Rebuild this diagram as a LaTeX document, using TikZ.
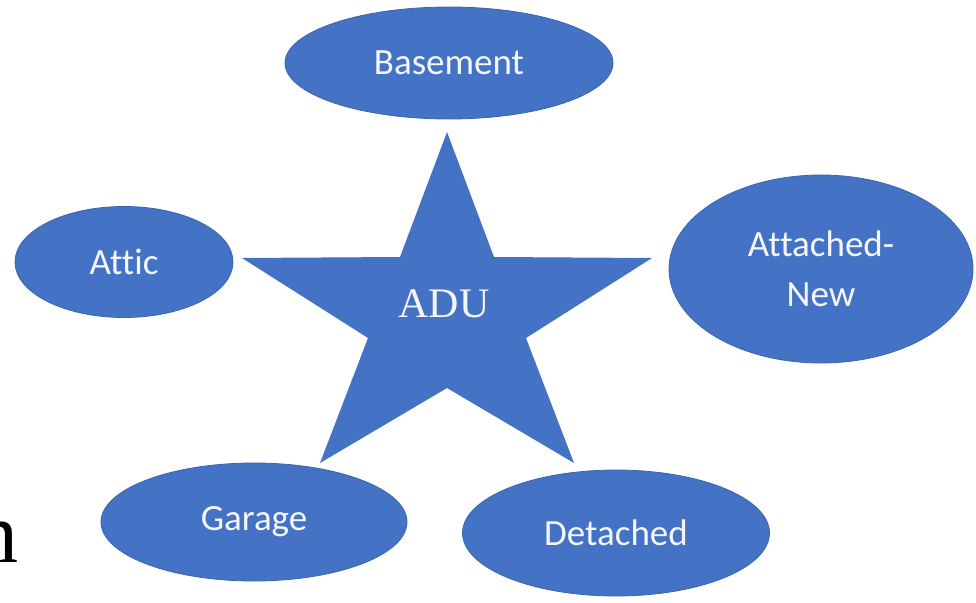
\documentclass[tikz,border=0pt]{standalone}
\usepackage{fontspec}
\setmainfont{Liberation Serif}
\newfontfamily\calib[Ligatures=NoCommon]{Carlito}
\usetikzlibrary{shapes.geometric}
\definecolor{adublue}{HTML}{4472C4}
\definecolor{aduedge}{HTML}{3A64B0}
\definecolor{adutext}{HTML}{F4F6FA}
\begin{document}
\begin{tikzpicture}[x=1pt,y=-1pt,
  bubble/.style={ellipse,fill=adublue,draw=aduedge,line width=0.8pt,inner sep=0pt,
    text=adutext,align=center,font=\calib\fontsize{37}{50}\selectfont}]
\useasboundingbox (0,0) rectangle (976,602);
\fill[white] (0,0) rectangle (976,602);
% star
\fill[adublue] (447,132) -- (494,257) -- (652,258) -- (526,338) -- (574,463)
  -- (447,388) -- (320,463) -- (368,338) -- (242,258) -- (400,257) -- cycle;
\node[text=adutext,font=\fontsize{42}{50}\selectfont,inner sep=0pt] (adu) at (444,304) {ADU};
% ellipses
\node[bubble,minimum width=328pt,minimum height=112pt] (basement) at (449,63) {Basement};
\node[bubble,minimum width=218pt,minimum height=111pt] (attic) at (124,262) {Attic};
\node[bubble,minimum width=304pt,minimum height=188pt] (attached) at (821,269) {Attached-\\New};
\node[bubble,minimum width=306pt,minimum height=118pt] (garage) at (254,522) {Garage};
\node[bubble,minimum width=307pt,minimum height=126pt] (detached) at (616,533) {Detached};
% stray letter cut by the left edge, as in the reference
\begin{scope}
\clip (0,0) rectangle (976,602);
\node[anchor=base east,inner sep=0pt,font=\fontsize{86}{90}\selectfont] (stray) at (19,562) {n};
\end{scope}
\end{tikzpicture}
\end{document}
